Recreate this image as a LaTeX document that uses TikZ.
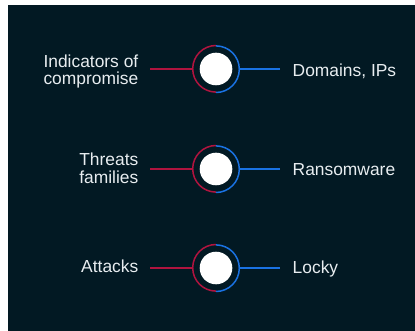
\documentclass[tikz,border=0pt]{standalone}
\usepackage{fontspec}
\setmainfont{Liberation Sans}
\definecolor{panel}{HTML}{021923}
\definecolor{linkred}{HTML}{B0143F}
\definecolor{linkblue}{HTML}{1A72E2}
\definecolor{labeltext}{HTML}{E8EDF0}
\begin{document}
\begin{tikzpicture}[x=1pt,y=-1pt,
  label/.style={inner sep=0pt,text=labeltext,font=\fontsize{17.4}{17.6}\selectfont},
  leftlabel/.style={label,align=right},
  hub/.style={circle,fill=white,inner sep=0pt,minimum size=32.6pt},
  ring/.style={circle,inner sep=0pt,minimum size=46.6pt},
  redlink/.style={draw=linkred,line width=1.5pt},
  bluelink/.style={draw=linkblue,line width=1.5pt}]
  % page and dark panel
  \useasboundingbox (0,0) rectangle (415,331);
  \fill[white] (0,0) rectangle (415,331);
  \fill[panel] (8,5) rectangle (415,331);

  % row 1
  \node[ring] (r1) at (216,69) {};
  \node[hub] (h1) at (r1.center) {};
  \node[leftlabel,anchor=east] (l1) at (138.5,71.7) {Indicators of\\compromise};
  \node[label,anchor=base west] (t1) at (292.5,76.7) {Domains, IPs};
  \coordinate (a1) at (150,69);
  \coordinate (b1) at (280,69);

  % row 2
  \node[ring] (r2) at (216,169) {};
  \node[hub] (h2) at (r2.center) {};
  \node[leftlabel,anchor=east] (l2) at (138.5,168.3) {Threats\\families};
  \node[label,anchor=base west] (t2) at (292.5,175.7) {Ransomware};
  \coordinate (a2) at (150,169);
  \coordinate (b2) at (280,169);

  % row 3
  \node[ring] (r3) at (216,268) {};
  \node[hub] (h3) at (r3.center) {};
  \node[label,anchor=base east] (l3) at (138.5,272.3) {Attacks};
  \node[label,anchor=base west] (t3) at (292.5,273.3) {Locky};
  \coordinate (a3) at (150,268);
  \coordinate (b3) at (280,268);

  % split rings (y axis points down, so angles run clockwise on the page)
  \foreach \i in {1,2,3}{
    \draw[redlink] (r\i.north) arc (270:90:23.3);
    \draw[bluelink] (r\i.south) arc (90:-90:23.3);
  }

  % connectors
  \draw[redlink] (a1) -- (r1.west);
  \draw[bluelink] (r1.east) -- (b1);
  \draw[redlink] (a2) -- (r2.west);
  \draw[bluelink] (r2.east) -- (b2);
  \draw[redlink] (a3) -- (r3.west);
  \draw[bluelink] (r3.east) -- (b3);
\end{tikzpicture}
\end{document}
